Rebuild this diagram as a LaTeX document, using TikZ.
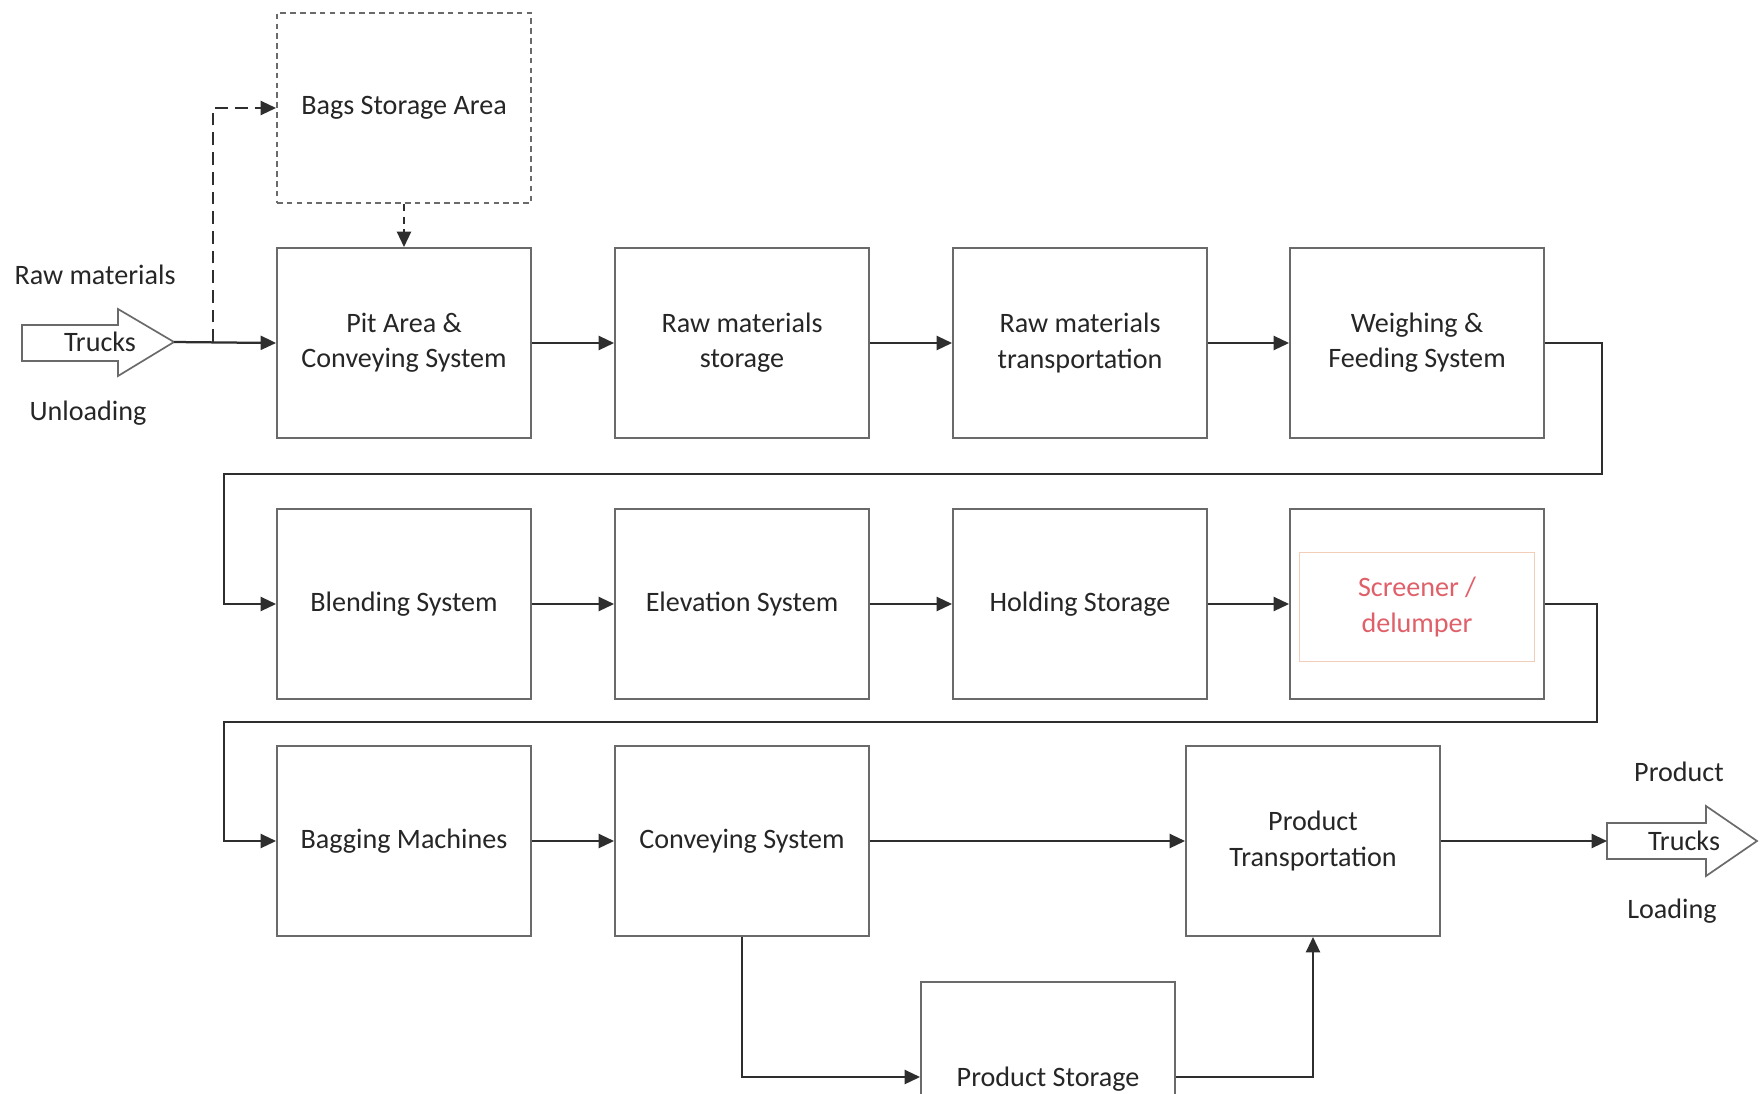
\documentclass[tikz,border=0pt]{standalone}
\usepackage{fontspec}
\setmainfont{Carlito}
\usetikzlibrary{arrows.meta}
\definecolor{boxgray}{HTML}{6A6A6A}
\definecolor{linegray}{HTML}{2E2E2E}
\definecolor{textgray}{HTML}{262626}
\definecolor{screenred}{HTML}{E0606A}
\definecolor{screenedge}{HTML}{F2CDB8}

\begin{document}
\begin{tikzpicture}[x=0.025cm,y=-0.025cm,
    stage/.style={draw=boxgray,line width=1.3pt,minimum width=6.35cm,minimum height=4.75cm,
      align=center,text=textgray,inner sep=0pt,font=\fontsize{20}{25}\selectfont},
    flow/.style={draw=linegray,line width=1.6pt,-{Triangle[length=11pt,width=10pt]}},
    lbl/.style={text=textgray,font=\fontsize{20}{25}\selectfont},
    truck/.style={draw=boxgray,line width=1.2pt,fill=white}]
  \clip (0,0) rectangle (1760,1093);
  \fill[white] (0,0) rectangle (1760,1093);

  %%%%% ROW 1 %%%%%
  \node[stage,dash pattern=on 4pt off 3pt] (bags) at (404,108) {Bags Storage Area};
  \node[stage] (pit) at (404,343) {Pit Area \&\\Conveying System};
  \node[stage] (rawsto) at (742,343) {Raw materials\\storage};
  \node[stage] (rawtra) at (1080,343) {Raw materials\\transportation};
  \node[stage] (weigh) at (1417,343) {Weighing \&\\Feeding System};

  %%%%% ROW 2 %%%%%
  \node[stage] (blend) at (404,604) {Blending System};
  \node[stage] (elev) at (742,604) {Elevation System};
  \node[stage] (hold) at (1080,604) {Holding Storage};
  \node[stage] (screen) at (1417,604) {};
  \node[draw=screenedge,line width=1pt,minimum width=5.875cm,minimum height=2.725cm,
    align=center,text=screenred,font=\fontsize{20}{25}\selectfont] (screenin) at (1417,607) {Screener /\\delumper};

  %%%%% ROW 3 %%%%%
  \node[stage] (bagmac) at (404,841) {Bagging Machines};
  \node[stage] (convey) at (742,841) {Conveying System};
  \node[stage] (prodtra) at (1313,841) {Product\\Transportation};
  \node[stage,text depth=0pt] (prodsto) at (1048,1077) {Product Storage};

  %%%%% TRUCKS %%%%%
  \draw[truck] (22,325) -- (118,325) -- (118,309) -- (174,342) -- (118,376) -- (118,361) -- (22,361) -- cycle;
  \coordinate (inTip) at (174,342);
  \node[lbl] (inTrucks) at (100,342) {Trucks};
  \node[lbl] (rawLbl) at (95,275) {Raw materials};
  \node[lbl] (unloadLbl) at (88,413) {Unloading};

  \draw[truck] (1607,823) -- (1706,823) -- (1706,806) -- (1757,841) -- (1706,876) -- (1706,859) -- (1607,859) -- cycle;
  \coordinate (outTail) at (1607,841);
  \node[lbl] (outTrucks) at (1684,841) {Trucks};
  \node[lbl] (prodLbl) at (1679,772) {Product};
  \node[lbl] (loadLbl) at (1672,911) {Loading};

  %%%%% CONNECTORS %%%%%
  \coordinate (split) at (213,342);
  \draw[flow] (inTip) -- (pit.west);
  \draw[flow,dash pattern=on 9pt off 5pt] (split) |- (bags.west);
  \draw[flow,dash pattern=on 5pt off 4pt] (bags) -- (pit);
  \draw[flow] (pit) -- (rawsto);
  \draw[flow] (rawsto) -- (rawtra);
  \draw[flow] (rawtra) -- (weigh);
  \draw[flow] (weigh.east) -| (1602,474) -| (224,604) -- (blend.west);
  \draw[flow] (blend) -- (elev);
  \draw[flow] (elev) -- (hold);
  \draw[flow] (hold) -- (screen);
  \draw[flow] (screen.east) -| (1597,722) -| (224,841) -- (bagmac.west);
  \draw[flow] (bagmac) -- (convey);
  \draw[flow] (convey) -- (prodtra);
  \draw[flow] (prodtra.east) -- (outTail);
  \draw[flow] (convey.south) |- (prodsto.west);
  \draw[flow] (prodsto.east) -| (prodtra.south);
\end{tikzpicture}
\end{document}
